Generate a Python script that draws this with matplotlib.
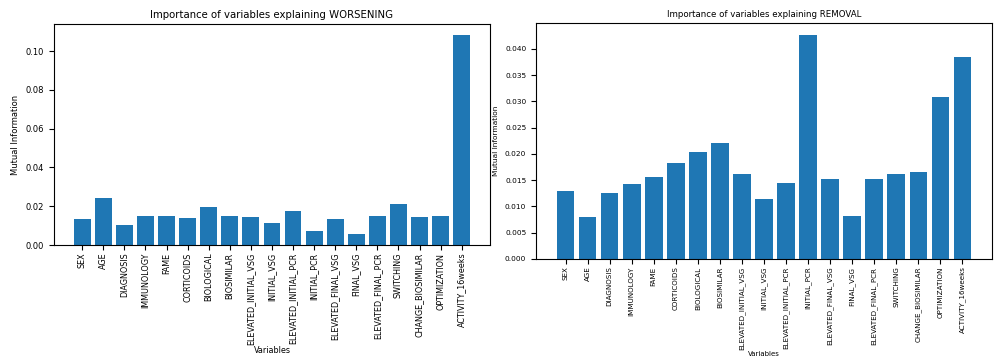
import numpy as np
import matplotlib
matplotlib.use("Agg")
import matplotlib.pyplot as plt

variables = ["SEX", "AGE", "DIAGNOSIS", "IMMUNOLOGY", "FAME", "CORTICOIDS",
             "BIOLOGICAL", "BIOSIMILAR", "ELEVATED_INITIAL_VSG", "INITIAL_VSG",
             "ELEVATED_INITIAL_PCR", "INITIAL_PCR", "ELEVATED_FINAL_VSG",
             "FINAL_VSG", "ELEVATED_FINAL_PCR", "SWITCHING", "CHANGE_BIOSIMILAR",
             "OPTIMIZATION", "ACTIVITY_16weeks"]

# mutual information for WORSENING
mi_worsening = [0.0133, 0.0240, 0.0102, 0.0152, 0.0152, 0.0141, 0.0195, 0.0148,
                0.0145, 0.0112, 0.0178, 0.0071, 0.0136, 0.0059, 0.0152, 0.0210,
                0.0147, 0.0152, 0.1083]

# mutual information for REMOVAL
mi_removal = [0.0130, 0.0080, 0.0125, 0.0143, 0.0156, 0.0182, 0.0203, 0.0221,
              0.0161, 0.0115, 0.0145, 0.0426, 0.0152, 0.0081, 0.0153, 0.0162,
              0.0165, 0.0309, 0.0384]

fig = plt.figure(figsize=(10.03, 3.6), dpi=100)

ax1 = fig.add_axes([0.0538, 0.3194, 0.4347, 0.6139])
ax1.bar(variables, mi_worsening, color="#1f77b4")
ax1.set_title("Importance of variables explaining WORSENING", fontsize=7.3, pad=4)
ax1.set_xlabel("Variables", fontsize=5.8, labelpad=0.5)
ax1.set_ylabel("Mutual Information", fontsize=6)
ax1.tick_params(axis="x", labelrotation=90, labelsize=5.8, pad=2)
ax1.tick_params(axis="y", labelsize=6)
ax1.set_ylim(0, 0.114)

ax2 = fig.add_axes([0.5344, 0.2806, 0.4546, 0.6556])
ax2.bar(variables, mi_removal, color="#1f77b4")
ax2.set_title("Importance of variables explaining REMOVAL", fontsize=6.2, pad=4)
ax2.set_xlabel("Variables", fontsize=5, labelpad=0.5)
ax2.set_ylabel("Mutual Information", fontsize=5.3)
ax2.tick_params(axis="x", labelrotation=90, labelsize=5.1, pad=2)
ax2.tick_params(axis="y", labelsize=5.3)
ax2.set_ylim(0, 0.0449)

plt.savefig("out.png", dpi=100)
plt.close()
